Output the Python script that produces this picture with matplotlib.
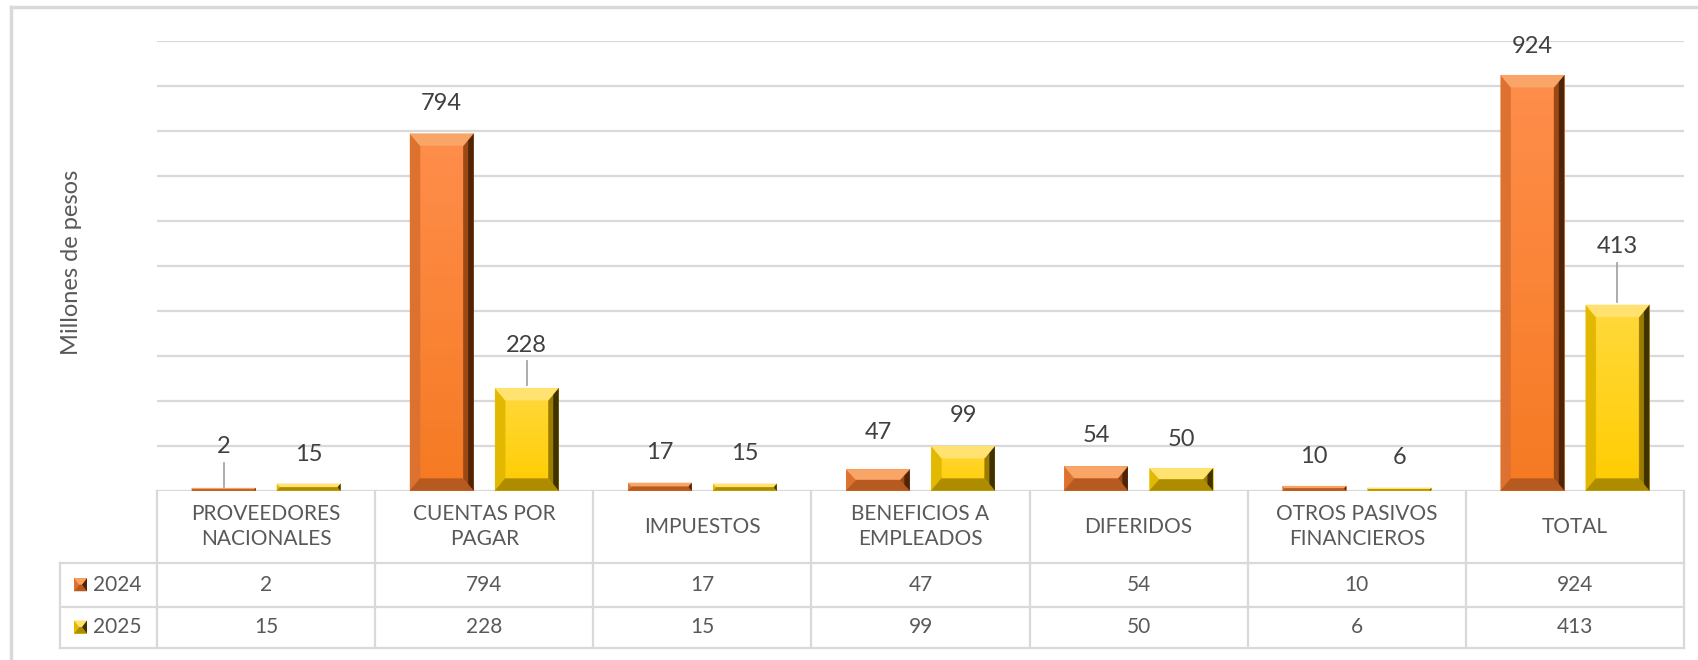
import numpy as np
import matplotlib
matplotlib.use("Agg")
import matplotlib.pyplot as plt
from matplotlib.patches import Polygon, Rectangle
from matplotlib.colors import LinearSegmentedColormap
from matplotlib.transforms import blended_transform_factory

plt.rcParams['font.family'] = ['Lato', 'DejaVu Sans']

categories = ["PROVEEDORES\nNACIONALES", "CUENTAS POR\nPAGAR", "IMPUESTOS",
              "BENEFICIOS A\nEMPLEADOS", "DIFERIDOS", "OTROS PASIVOS\nFINANCIEROS", "TOTAL"]
series_names = ["2024", "2025"]
values_2024 = [2, 794, 17, 47, 54, 10, 924]
values_2025 = [15, 228, 15, 99, 50, 6, 413]

# label distance above bar top, in pixels (style only)
label_off_2024 = [43, 30, 30, 37, 31, 30, 29]
label_off_2025 = [29, 43, 30, 31, 29, 30, 58]

W, H = 1698, 660
TXT = "#595959"
GRID = "#D9D9D9"

# colours: face (top/bottom), bevels
pal_2024 = dict(ftop="#FF8E4C", face="#F57A22", top="#FAA568", left="#DD7230",
                right_in="#9A4816", right_out="#4E2408", bottom="#B65A20")
pal_2025 = dict(ftop="#FFD93C", face="#FFCC00", top="#FFE270", left="#E3B800",
                right_in="#9C7C00", right_out="#3E3200", bottom="#AE8C00")

fig = plt.figure(figsize=(W / 100, H / 100), dpi=100)


def fx(x):
    return x / W


def fy(y):
    return 1 - y / H


ax_left, ax_right, ax_top, ax_base = 157, 1684, 41, 490.6
ax = fig.add_axes([fx(ax_left), fy(ax_base), (ax_right - ax_left) / W, (ax_base - ax_top) / H])
ax.set_xlim(-0.5, len(categories) - 0.5)
ax.set_ylim(0, 1000)
ax.set_yticks(np.arange(100, 1001, 100))
ax.yaxis.grid(True, color=GRID, lw=1.6)
ax.set_axisbelow(True)
ax.tick_params(left=False, labelleft=False, bottom=False, labelbottom=False)
for s in ax.spines.values():
    s.set_visible(False)
ax.axhline(0, color=GRID, lw=1.6, zorder=1)

x = np.arange(len(categories))
bw = 0.29
off = 0.195
bars1 = ax.bar(x - off, values_2024, bw, color=pal_2024["face"], zorder=2)
bars2 = ax.bar(x + off, values_2025, bw, color=pal_2025["face"], zorder=2)

inv = ax.transData.inverted()


def poly(pts, c, z=3):
    ax.add_patch(Polygon(inv.transform(np.array(pts)), closed=True, facecolor=c,
                         edgecolor=c, lw=0.3, zorder=z))


def bevel(X0, Y0, X1, Y1, pal, bx_max=10, by_max=12):
    # X/Y in display pixels (y up)
    h = Y1 - Y0
    bx = min(bx_max, (X1 - X0) / 2 * 0.9, h / 2)
    by = min(by_max, h / 2)
    h2 = bx / 2
    poly([(X0, Y0), (X0 + bx, Y0 + by), (X0 + bx, Y1 - by), (X0, Y1)], pal["left"])
    poly([(X1, Y0), (X1 - bx, Y0 + by), (X1 - bx, Y1 - by), (X1, Y1)], pal["right_in"])
    poly([(X1, Y0), (X1 - h2, Y0 + by / 2), (X1 - h2, Y1 - by / 2), (X1, Y1)], pal["right_out"])
    poly([(X0, Y1), (X1, Y1), (X1 - bx, Y1 - by), (X0 + bx, Y1 - by)], pal["top"])
    poly([(X0, Y0), (X1, Y0), (X1 - bx, Y0 + by), (X0 + bx, Y0 + by)], pal["bottom"])


for bars, pal in ((bars1, pal_2024), (bars2, pal_2025)):
    cmap = LinearSegmentedColormap.from_list("g", [pal["ftop"], pal["face"]])
    for p in bars:
        (X0, Y0), (X1, Y1) = ax.transData.transform(
            [(p.get_x(), 0), (p.get_x() + p.get_width(), p.get_height())])
        Y1 = max(Y1, Y0 + 2.5)
        ax.imshow(np.linspace(0, 1, 50).reshape(-1, 1), cmap=cmap, aspect="auto",
                  extent=(p.get_x(), p.get_x() + p.get_width(), 0, inv.transform((0, Y1))[1]),
                  origin="upper", zorder=2.5)
        bevel(X0, Y0, X1, Y1, pal)

ax.set_xlim(-0.5, len(categories) - 0.5)
ax.set_ylim(0, 1000)

# data labels with leader lines where pushed up
for bars, vals, offs in ((bars1, values_2024, label_off_2024), (bars2, values_2025, label_off_2025)):
    for p, v, o in zip(bars, vals, offs):
        cx = p.get_x() + p.get_width() / 2
        ax.annotate(f"{v}", (cx, v), xytext=(0, o * 0.72), textcoords="offset points",
                    ha="center", va="center", fontsize=17, color="#404040", zorder=5)
        if o > 40:
            ytop = ax.transData.transform((cx, v))[1]
            pa = inv.transform((0, ytop + 3))[1]
            pb = inv.transform((0, ytop + o - 16))[1]
            ax.plot([cx, cx], [pa, pb], color="#A6A6A6", lw=1.3, zorder=4, clip_on=False)

# y label
fig.text(fx(72), fy(262), "Millones de pesos", rotation=90, ha="center", va="center",
         fontsize=17, color=TXT)

# data table below axes
tb = blended_transform_factory(ax.transData, ax.transAxes)


def ay(y):
    return (ax_base - y) / (ax_base - ax_top)


r0, r1, r2 = 563, 606.5, 647.6
xl = -0.5 - (ax_left - 59.6) / ((ax_right - ax_left) / len(categories))
xr = len(categories) - 0.5
lkw = dict(color=GRID, lw=1.6, transform=tb, clip_on=False)
ax.plot([xl, xr], [ay(r0), ay(r0)], **lkw)
ax.plot([xl, xr], [ay(r1), ay(r1)], **lkw)
ax.plot([xl, xr], [ay(r2), ay(r2)], **lkw)
ax.plot([xl, xl], [ay(r0), ay(r2)], **lkw)
for k in range(len(categories) + 1):
    ax.plot([k - 0.5, k - 0.5], [0, ay(r2)], **lkw)

for i, c in enumerate(categories):
    ax.text(i, ay((ax_base + r0) / 2), c, ha="center", va="center", transform=tb,
            fontsize=15, color=TXT, linespacing=1.3)
    ax.text(i, ay((r0 + r1) / 2), f"{values_2024[i]}", ha="center", va="center", transform=tb,
            fontsize=15, color=TXT)
    ax.text(i, ay((r1 + r2) / 2), f"{values_2025[i]}", ha="center", va="center", transform=tb,
            fontsize=15, color=TXT)

# legend keys inside table
for name, (ya, yb), pal in ((series_names[0], (r0, r1), pal_2024), (series_names[1], (r1, r2), pal_2025)):
    yc = (ya + yb) / 2
    k0, k1 = 74, 87
    fig.patches.append(Rectangle((fx(k0), fy(yc + 6.5)), 13 / W, 13 / H,
                                 transform=fig.transFigure, facecolor=pal["face"], edgecolor="none"))
    for pts, c in (([(k0, yc - 6.5), (k1, yc - 6.5), (k1 - 5, yc), (k0 + 5, yc)], pal["top"]),
                   ([(k0, yc + 6.5), (k1, yc + 6.5), (k1 - 5, yc), (k0 + 5, yc)], pal["bottom"]),
                   ([(k0, yc - 6.5), (k0 + 5, yc), (k0, yc + 6.5)], pal["left"]),
                   ([(k1, yc - 6.5), (k1 - 5, yc), (k1, yc + 6.5)], pal["right_out"])):
        fig.patches.append(Polygon([(fx(a), fy(b)) for a, b in pts], closed=True, facecolor=c,
                                   edgecolor="none", transform=fig.transFigure))
    fig.text(fx(93), fy(yc), name, ha="left", va="center", fontsize=15, color=TXT)

# chart frame (top and left edges visible)
fig.add_artist(plt.Line2D([fx(10.5), 1], [fy(6.5), fy(6.5)], color=GRID, lw=2.5, transform=fig.transFigure))
fig.add_artist(plt.Line2D([fx(10.5), fx(10.5)], [fy(6.5), 0], color=GRID, lw=2.5, transform=fig.transFigure))

fig.savefig("out.png", dpi=100, facecolor="white")
